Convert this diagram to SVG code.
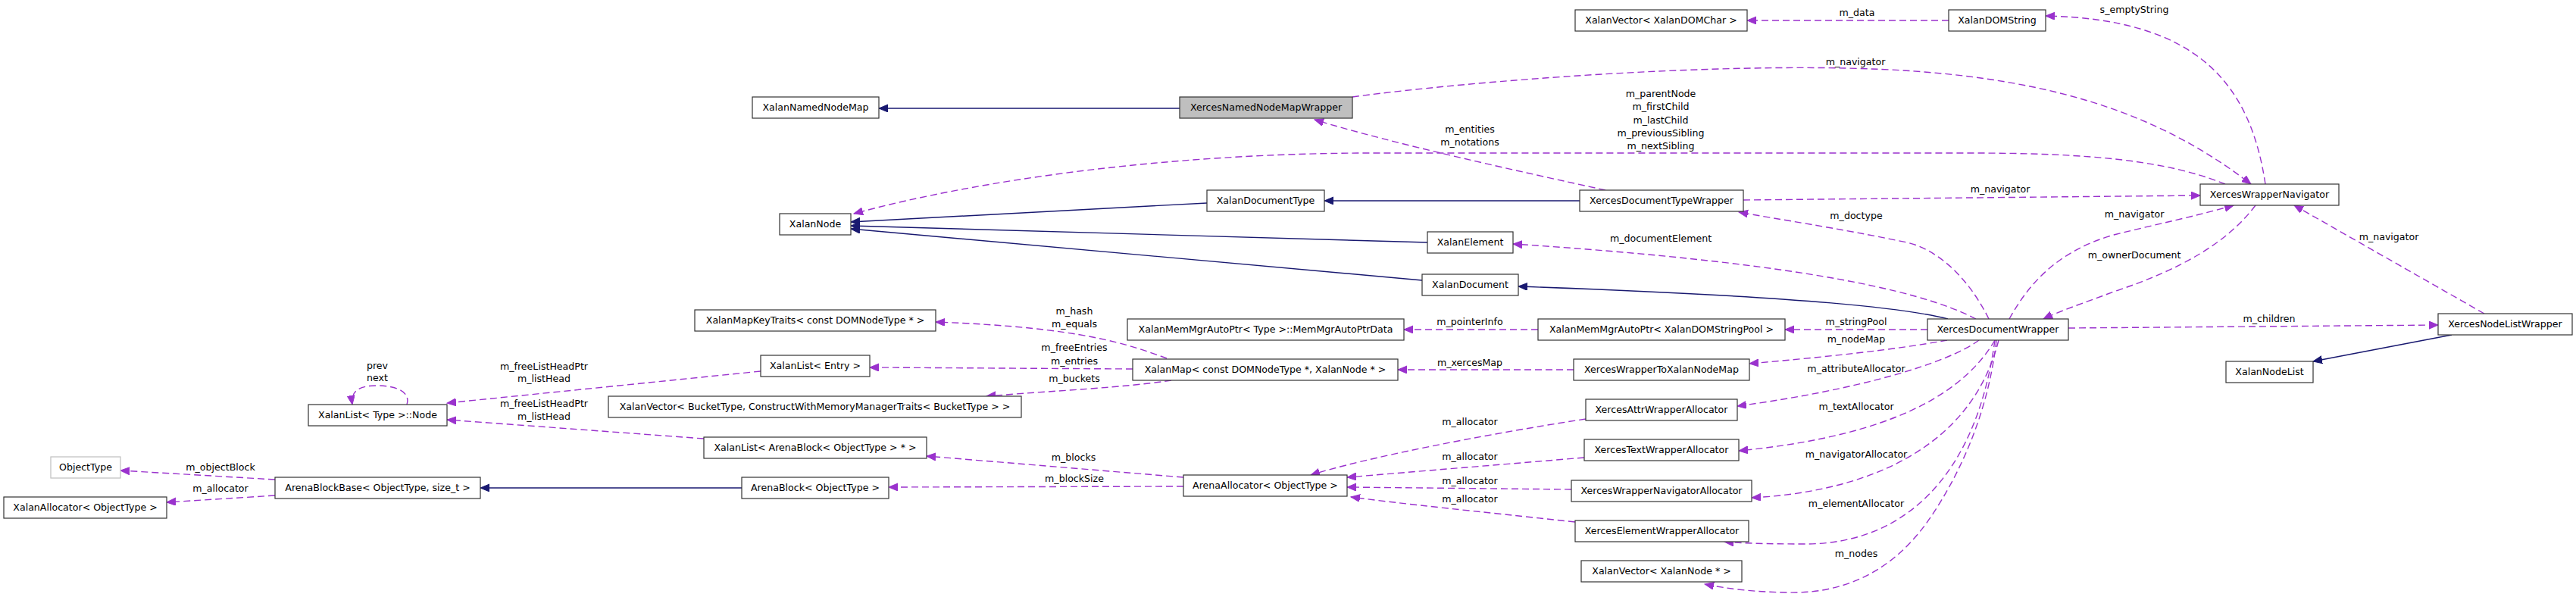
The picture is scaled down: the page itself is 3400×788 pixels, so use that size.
<svg xmlns="http://www.w3.org/2000/svg" width="3400" height="788" viewBox="0 0 3400 788">
<style>
text{font-family:"DejaVu Sans","Liberation Sans",sans-serif;font-size:12.6px;fill:#000}
.n rect{fill:#fff;stroke:#333;stroke-width:1.2}
.n text,.l{text-anchor:middle}
.g rect{fill:#bfbfbf}
.o rect{stroke:#bfbfbf}
.e{fill:none;stroke:#9a32cd;stroke-width:1.4;stroke-dasharray:9,5}
.i{fill:none;stroke:#191970;stroke-width:1.4}
</style>
<defs>
<marker id="ap" markerUnits="userSpaceOnUse" markerWidth="14" markerHeight="12" refX="12" refY="5" orient="auto"><path d="M0,0 L12,5 L0,10 z" fill="#9a32cd" stroke="#9a32cd"/></marker>
<marker id="an" markerUnits="userSpaceOnUse" markerWidth="14" markerHeight="12" refX="12" refY="5" orient="auto"><path d="M0,0 L12,5 L0,10 z" fill="#191970" stroke="#191970"/></marker>
</defs>
<rect width="3400" height="788" fill="#fff"/>
<g id="edges">
<path class="i" marker-end="url(#an)" d="M1557,143 L1160,143"/>
<path class="i" marker-end="url(#an)" d="M1593,268 L1123,293"/>
<path class="i" marker-end="url(#an)" d="M1884,320 L1123,298"/>
<path class="i" marker-end="url(#an)" d="M1877,370 L1123,302"/>
<path class="i" marker-end="url(#an)" d="M2085,265 L1748,265"/>
<path class="i" marker-end="url(#an)" d="M2571,421 C2520,408 2400,392 2004,378"/>
<path class="i" marker-end="url(#an)" d="M979,644 L634,644"/>
<path class="i" marker-end="url(#an)" d="M3236,442 L3053,477"/>

<path class="e" marker-end="url(#ap)" d="M2572,27 L2306,27"/>
<text class="l" x="2451" y="21">m_data</text>
<path class="e" marker-end="url(#ap)" d="M2990,243 C2970,110 2900,25 2700,21"/>
<text class="l" x="2817" y="17">s_emptyString</text>
<path class="e" marker-end="url(#ap)" d="M1785,128 C1900,112 2200,85 2436,90 C2700,95 2850,150 2971,243"/>
<text class="l" x="2449" y="86">m_navigator</text>
<path class="e" marker-end="url(#ap)" d="M2937,243 C2860,212 2760,202 2600,202 L1800,202 C1550,203 1300,235 1127,282"/>
<text class="l" x="2192" y="128">m_parentNode</text>
<text class="l" x="2192" y="145">m_firstChild</text>
<text class="l" x="2192" y="163">m_lastChild</text>
<text class="l" x="2192" y="180">m_previousSibling</text>
<text class="l" x="2192" y="197">m_nextSibling</text>
<path class="e" marker-end="url(#ap)" d="M2119,251 C2000,225 1840,190 1735,158"/>
<text class="l" x="1940" y="175">m_entities</text>
<text class="l" x="1940" y="192">m_notations</text>
<path class="e" marker-end="url(#ap)" d="M2301,264 L2904,258"/>
<text class="l" x="2640" y="254">m_navigator</text>
<path class="e" marker-end="url(#ap)" d="M2625,421 C2600,370 2560,330 2517,320 C2420,300 2350,290 2295,280"/>
<text class="l" x="2450" y="289">m_doctype</text>
<path class="e" marker-end="url(#ap)" d="M2608,421 C2530,380 2350,345 1997,322"/>
<text class="l" x="2192" y="319">m_documentElement</text>
<path class="e" marker-end="url(#ap)" d="M2544,435 L2356,435"/>
<text class="l" x="2450" y="429">m_stringPool</text>
<path class="e" marker-end="url(#ap)" d="M2030,435 L1853,435"/>
<text class="l" x="1940" y="429">m_pointerInfo</text>
<path class="e" marker-end="url(#ap)" d="M2570,449 C2500,462 2400,472 2309,480"/>
<text class="l" x="2450" y="452">m_nodeMap</text>
<path class="e" marker-end="url(#ap)" d="M2077,488 L1845,488"/>
<text class="l" x="1940" y="483">m_xercesMap</text>
<path class="e" marker-end="url(#ap)" d="M1540,473 C1490,455 1430,432 1235,425"/>
<text class="l" x="1418" y="415">m_hash</text>
<text class="l" x="1418" y="432">m_equals</text>
<path class="e" marker-end="url(#ap)" d="M1495,487 L1148,485"/>
<text class="l" x="1418" y="463">m_freeEntries</text>
<text class="l" x="1418" y="481">m_entries</text>
<path class="e" marker-end="url(#ap)" d="M1546,502 C1480,512 1400,515 1302,523"/>
<text class="l" x="1418" y="504">m_buckets</text>
<path class="e" marker-end="url(#ap)" d="M1004,490 L590,532"/>
<text class="l" x="718" y="488">m_freeListHeadPtr</text>
<text class="l" x="718" y="504">m_listHead</text>
<path class="e" marker-end="url(#ap)" d="M929,579 L590,554"/>
<text class="l" x="718" y="537">m_freeListHeadPtr</text>
<text class="l" x="718" y="554">m_listHead</text>
<path class="e" marker-end="url(#ap)" d="M537,534 C542,518 525,509 497,509 C478,509 462,514 465,534"/>
<text class="l" x="498" y="487">prev</text>
<text class="l" x="498" y="503">next</text>
<path class="e" marker-end="url(#ap)" d="M1562,630 L1223,602"/>
<text class="l" x="1417" y="608">m_blocks</text>
<path class="e" marker-end="url(#ap)" d="M1562,642 L1173,643"/>
<text class="l" x="1418" y="636">m_blockSize</text>
<path class="e" marker-end="url(#ap)" d="M363,633 L159,621"/>
<text class="l" x="291" y="621">m_objectBlock</text>
<path class="e" marker-end="url(#ap)" d="M363,654 L220,663"/>
<text class="l" x="291" y="649">m_allocator</text>
<path class="e" marker-end="url(#ap)" d="M2093,553 C1950,575 1800,605 1730,627"/>
<text class="l" x="1940" y="561">m_allocator</text>
<path class="e" marker-end="url(#ap)" d="M2091,604 L1778,630"/>
<text class="l" x="1940" y="607">m_allocator</text>
<path class="e" marker-end="url(#ap)" d="M2074,646 L1778,643"/>
<text class="l" x="1940" y="639">m_allocator</text>
<path class="e" marker-end="url(#ap)" d="M2079,689 C1950,675 1850,665 1783,656"/>
<text class="l" x="1940" y="663">m_allocator</text>
<path class="e" marker-end="url(#ap)" d="M2612,449 C2570,480 2450,515 2293,536"/>
<text class="l" x="2450" y="491">m_attributeAllocator</text>
<path class="e" marker-end="url(#ap)" d="M2633,449 C2580,540 2450,580 2295,595"/>
<text class="l" x="2450" y="541">m_textAllocator</text>
<path class="e" marker-end="url(#ap)" d="M2638,449 C2600,600 2450,650 2312,657"/>
<text class="l" x="2450" y="604">m_navigatorAllocator</text>
<path class="e" marker-end="url(#ap)" d="M2633,449 C2610,620 2520,718 2383,718 C2330,718 2300,717 2276,715"/>
<text class="l" x="2450" y="669">m_elementAllocator</text>
<path class="e" marker-end="url(#ap)" d="M2635,449 C2625,540 2590,620 2550,680 C2510,740 2450,785 2357,782 C2310,781 2280,777 2250,771"/>
<text class="l" x="2450" y="735">m_nodes</text>
<path class="e" marker-end="url(#ap)" d="M2730,433 L3218,429"/>
<text class="l" x="2995" y="425">m_children</text>
<path class="e" marker-end="url(#ap)" d="M2652,421 C2680,370 2720,330 2790,310 C2850,295 2900,285 2948,271"/>
<text class="l" x="2817" y="287">m_navigator</text>
<path class="e" marker-end="url(#ap)" d="M2977,271 C2940,320 2880,355 2790,385 C2750,400 2720,410 2697,421"/>
<text class="l" x="2817" y="341">m_ownerDocument</text>
<path class="e" marker-end="url(#ap)" d="M3279,414 L3028,271"/>
<text class="l" x="3153" y="317">m_navigator</text>
</g>
<g id="XalanNamedNodeMap" class="n"><rect x="993" y="128" width="167" height="28"/><text x="1076.5" y="146">XalanNamedNodeMap</text></g>
<g id="XercesNamedNodeMapWrapper" class="n g"><rect x="1557" y="128" width="228" height="28"/><text x="1671" y="146">XercesNamedNodeMapWrapper</text></g>
<g id="XalanNode" class="n"><rect x="1029" y="282" width="94" height="28"/><text x="1076" y="300">XalanNode</text></g>
<g id="XalanDocumentType" class="n"><rect x="1593" y="251" width="155" height="28"/><text x="1670.5" y="269">XalanDocumentType</text></g>
<g id="XercesDocumentTypeWrapper" class="n"><rect x="2085" y="251" width="216" height="28"/><text x="2193" y="269">XercesDocumentTypeWrapper</text></g>
<g id="XalanElement" class="n"><rect x="1884" y="306" width="113" height="28"/><text x="1940.5" y="324">XalanElement</text></g>
<g id="XalanDocument" class="n"><rect x="1877" y="362" width="127" height="28"/><text x="1940.5" y="380">XalanDocument</text></g>
<g id="XalanVector_XalanDOMChar" class="n"><rect x="2079" y="13" width="227" height="28"/><text x="2192.5" y="31">XalanVector&lt; XalanDOMChar &gt;</text></g>
<g id="XalanDOMString" class="n"><rect x="2572" y="13" width="128" height="28"/><text x="2636" y="31">XalanDOMString</text></g>
<g id="XercesWrapperNavigator" class="n"><rect x="2904" y="243" width="183" height="28"/><text x="2995.5" y="261">XercesWrapperNavigator</text></g>
<g id="XercesNodeListWrapper" class="n"><rect x="3218" y="414" width="177" height="28"/><text x="3306.5" y="432">XercesNodeListWrapper</text></g>
<g id="XalanNodeList" class="n"><rect x="2938" y="477" width="115" height="28"/><text x="2995.5" y="495">XalanNodeList</text></g>
<g id="XercesDocumentWrapper" class="n"><rect x="2544" y="421" width="186" height="28"/><text x="2637" y="439">XercesDocumentWrapper</text></g>
<g id="XalanMemMgrAutoPtr_XalanDOMStringPool" class="n"><rect x="2030" y="421" width="326" height="28"/><text x="2193" y="439">XalanMemMgrAutoPtr&lt; XalanDOMStringPool &gt;</text></g>
<g id="MemMgrAutoPtrData" class="n"><rect x="1488" y="421" width="365" height="28"/><text x="1670.5" y="439">XalanMemMgrAutoPtr&lt; Type &gt;::MemMgrAutoPtrData</text></g>
<g id="XercesWrapperToXalanNodeMap" class="n"><rect x="2077" y="474" width="232" height="28"/><text x="2193" y="492">XercesWrapperToXalanNodeMap</text></g>
<g id="XalanMap" class="n"><rect x="1495" y="474" width="350" height="28"/><text x="1670" y="492">XalanMap&lt; const DOMNodeType *, XalanNode * &gt;</text></g>
<g id="XalanMapKeyTraits" class="n"><rect x="917" y="409" width="318" height="28"/><text x="1076" y="427">XalanMapKeyTraits&lt; const DOMNodeType * &gt;</text></g>
<g id="XalanList_Entry" class="n"><rect x="1004" y="469" width="144" height="28"/><text x="1076" y="487">XalanList&lt; Entry &gt;</text></g>
<g id="XalanVector_BucketType" class="n"><rect x="803" y="523" width="545" height="28"/><text x="1075.5" y="541">XalanVector&lt; BucketType, ConstructWithMemoryManagerTraits&lt; BucketType &gt; &gt;</text></g>
<g id="XalanList_Node" class="n"><rect x="407" y="534" width="183" height="28"/><text x="498.5" y="552">XalanList&lt; Type &gt;::Node</text></g>
<g id="XalanList_ArenaBlock" class="n"><rect x="929" y="577" width="294" height="28"/><text x="1076" y="595">XalanList&lt; ArenaBlock&lt; ObjectType &gt; * &gt;</text></g>
<g id="ArenaBlock" class="n"><rect x="979" y="630" width="194" height="28"/><text x="1076" y="648">ArenaBlock&lt; ObjectType &gt;</text></g>
<g id="ArenaAllocator" class="n"><rect x="1562" y="627" width="216" height="28"/><text x="1670" y="645">ArenaAllocator&lt; ObjectType &gt;</text></g>
<g id="ArenaBlockBase" class="n"><rect x="363" y="630" width="271" height="28"/><text x="498.5" y="648">ArenaBlockBase&lt; ObjectType, size_t &gt;</text></g>
<g id="ObjectType" class="n o"><rect x="67" y="603" width="92" height="28"/><text x="113" y="621">ObjectType</text></g>
<g id="XalanAllocator" class="n"><rect x="5" y="656" width="215" height="28"/><text x="112.5" y="674">XalanAllocator&lt; ObjectType &gt;</text></g>
<g id="XercesAttrWrapperAllocator" class="n"><rect x="2093" y="527" width="200" height="28"/><text x="2193" y="545">XercesAttrWrapperAllocator</text></g>
<g id="XercesTextWrapperAllocator" class="n"><rect x="2091" y="580" width="204" height="28"/><text x="2193" y="598">XercesTextWrapperAllocator</text></g>
<g id="XercesWrapperNavigatorAllocator" class="n"><rect x="2074" y="634" width="238" height="28"/><text x="2193" y="652">XercesWrapperNavigatorAllocator</text></g>
<g id="XercesElementWrapperAllocator" class="n"><rect x="2079" y="687" width="229" height="28"/><text x="2193.5" y="705">XercesElementWrapperAllocator</text></g>
<g id="XalanVector_XalanNode" class="n"><rect x="2087" y="740" width="212" height="28"/><text x="2193" y="758">XalanVector&lt; XalanNode * &gt;</text></g>
</svg>
